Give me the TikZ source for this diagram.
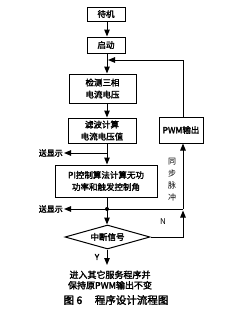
\documentclass[tikz,border=0pt]{standalone}
\usepackage{fontspec}
\setmainfont{Noto Sans CJK SC}[AutoFakeBold=2]
\usetikzlibrary{arrows.meta,shapes.geometric}
\begin{document}
\begin{tikzpicture}[x=1pt,y=-1pt,
  box/.style={draw,line width=1pt,rectangle,inner sep=0pt,font=\fontsize{8.5}{12}\selectfont\bfseries,align=center},
  flow/.style={line width=1pt,-{Triangle[length=7pt,width=5.5pt]}},
  line/.style={line width=1pt},
  lab/.style={font=\fontsize{8}{10}\selectfont\bfseries,inner sep=0pt}]
\useasboundingbox[fill=white] (0,0) rectangle (245,314);
\coordinate (mx) at (107,0);
\node[box,minimum width=38pt,minimum height=14pt] (daiji) at (106,14) {待机};
\node[box,minimum width=38pt,minimum height=16pt] (qidong) at (106,45) {启动};
\node[box,minimum width=67pt,minimum height=29pt] (jiance) at (102.5,88.5) {检测三相\\电流电压};
\node[box,minimum width=68pt,minimum height=25pt] (lvbo) at (102,130.5) {滤波计算\\电流电压值};
\node[box,minimum width=44pt,minimum height=26pt] (pwm) at (181,130) {PWM输出};
\node[box,minimum width=102pt,minimum height=32pt] (pi) at (106,181) {PI控制算法计算无功\\功率和触发控制角};
\node[draw,line width=1pt,diamond,aspect=3.6,minimum width=85pt,minimum height=24pt,inner sep=0pt,font=\fontsize{8.5}{11}\selectfont\bfseries] (dia) at (107.5,237) {中断信号};
% main column
\draw[flow] (daiji.south -| mx) -- (qidong.north -| mx);
\coordinate (j1) at (107,60);
\draw[flow] (qidong.south -| mx) -- (jiance.north -| mx);
\draw[flow] (jiance.south -| mx) -- (lvbo.north -| mx);
\coordinate (s1) at (107,153);
\draw[flow] (lvbo.south -| mx) -- (pi.north -| mx);
\coordinate (d2) at (107,209);
\draw[flow] (pi.south -| mx) -- (dia.north -| mx);
\fill (d2) circle (2pt);
% display branches
\node[lab,anchor=east] (show1) at (63,153) {送显示};
\coordinate (t1) at (64,153);
\draw[flow] (s1) -- (t1);
\node[lab,anchor=east] (show2) at (63,209) {送显示};
\coordinate (t2) at (64,209);
\draw[flow] (d2) -- (t2);
% right loop
\coordinate (r0) at (183,237);
\coordinate (r1) at (183,209);
\coordinate (r2) at (183,210.5);
\draw[line] (d2) -- (r1);
\draw[flow] (dia.east) -- (r0) -- (r2);
\draw[flow] (r1) -- (pwm.south -| r1);
\node[lab,align=center,font=\fontsize{8}{12}\selectfont] (sync) at (172,180) {同\\步\\脉\\冲};
\node[lab,font=\fontsize{8}{10}\selectfont] (nlab) at (163,222) {N};
% feedback
\coordinate (f1) at (183,60);
\coordinate (f2) at (108,60);
\draw[flow] (pwm.north -| f1) -- (f1) -- (f2);
% yes
\node[lab] (ylab) at (97,257) {Y};
\coordinate (y1) at (107,265);
\draw[flow] (dia.south -| mx) -- (y1);
\node[lab,align=center,font=\fontsize{9}{10.5}\selectfont\bfseries] (other) at (110,280) {进入其它服务程序并\\保持原PWM输出不变};
\node[inner sep=0pt,font=\fontsize{10.5}{12}\selectfont\bfseries] (cap) at (116,300) {图 6\hspace{1.2em}程序设计流程图};
\end{tikzpicture}
\end{document}
